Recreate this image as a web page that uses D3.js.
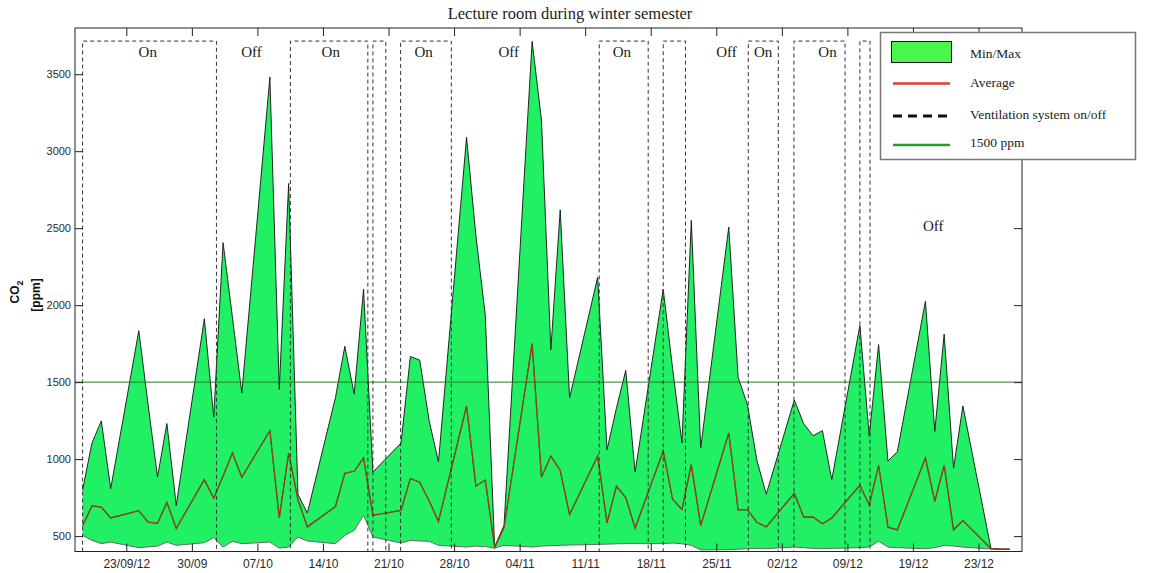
<!DOCTYPE html>
<html>
<head>
<meta charset="utf-8">
<script src="https://cdn.jsdelivr.net/npm/d3@7"></script>
<style>
  html, body { margin: 0; padding: 0; background: #fff; }
  svg { display: block; }
</style>
</head>
<body>
<svg id="chart" width="1152" height="573"></svg>
<script>
// Daily CO2 statistics (weekday mornings), ppm
const sampleTimes = [
  "2012-09-18T08:00","2012-09-19T08:00","2012-09-20T08:00","2012-09-21T08:00",
  "2012-09-24T08:00","2012-09-25T08:00","2012-09-26T08:00","2012-09-27T08:00","2012-09-28T08:00",
  "2012-10-01T08:00","2012-10-02T08:00","2012-10-03T08:00","2012-10-04T08:00","2012-10-05T08:00",
  "2012-10-08T08:00","2012-10-09T08:00","2012-10-10T08:00","2012-10-11T08:00","2012-10-12T08:00",
  "2012-10-15T08:00","2012-10-16T08:00","2012-10-17T08:00","2012-10-18T08:00","2012-10-19T08:00",
  "2012-10-22T08:00","2012-10-23T08:00","2012-10-24T08:00","2012-10-25T08:00","2012-10-26T08:00",
  "2012-10-29T08:00","2012-10-30T08:00","2012-10-31T08:00","2012-11-01T08:00","2012-11-02T08:00",
  "2012-11-05T08:00","2012-11-06T08:00","2012-11-07T08:00","2012-11-08T08:00","2012-11-09T08:00",
  "2012-11-12T08:00","2012-11-13T08:00","2012-11-14T08:00","2012-11-15T08:00","2012-11-16T08:00",
  "2012-11-19T08:00","2012-11-20T08:00","2012-11-21T08:00","2012-11-22T08:00","2012-11-23T08:00",
  "2012-11-26T08:00","2012-11-27T08:00","2012-11-28T08:00","2012-11-29T08:00","2012-11-30T08:00",
  "2012-12-03T08:00","2012-12-04T08:00","2012-12-05T08:00","2012-12-06T08:00","2012-12-07T08:00",
  "2012-12-10T08:00","2012-12-11T08:00","2012-12-12T08:00","2012-12-13T08:00","2012-12-14T08:00",
  "2012-12-17T08:00","2012-12-18T08:00","2012-12-19T08:00","2012-12-20T08:00","2012-12-21T08:00",
  "2012-12-24T08:00","2012-12-25T08:00","2012-12-26T08:00"
];

const maxValues = [
  800, 1105, 1248, 808,
  1834, 1350, 884, 1231, 700,
  1912, 1273, 2406, 1920, 1430,
  3482, 1453, 2790, 770, 650,
  1400, 1733, 1422, 2103, 916,
  1104, 1666, 1643, 1251, 982,
  3090, 2450, 1935, 430, 570,
  3713, 3202, 1711, 2619, 1397,
  2181, 1060, 1330, 1576, 915,
  2103, 1590, 1105, 2551, 1072,
  2507, 1531, 1352, 993, 772,
  1384, 1230, 1152, 1185, 866,
  1868, 1150, 1744, 987, 1048,
  2025, 1180, 1812, 941, 1345,
  419, 415, 415
];

const avgValues = [
  565, 697, 688, 618,
  665, 590, 583, 719, 550,
  867, 746, 890, 1039, 882,
  1184, 618, 1039, 735, 560,
  692, 908, 921, 1008, 635,
  667, 874, 850, 730, 595,
  1345, 824, 864, 428, 555,
  1750, 882, 1020, 926, 640,
  1020, 585, 824, 750, 552,
  1053, 739, 673, 965, 568,
  1170, 670, 670, 590, 560,
  778, 623, 625, 580, 618,
  830, 701, 960, 558, 540,
  1007, 726, 960, 541, 601,
  418, 415, 415
];

const minValues = [
  505, 472, 451, 461,
  425, 430, 435, 461, 440,
  457, 490, 429, 466, 451,
  461, 422, 429, 494, 468,
  451, 505, 537, 635, 494,
  455, 472, 468, 466, 440,
  429, 435, 432, 422, 440,
  429, 435, 438, 440, 442,
  446, 448, 450, 451, 451,
  451, 455, 450, 440, 410,
  412, 415, 418, 420, 418,
  429, 425, 420, 418, 420,
  425, 429, 466, 429, 425,
  418, 425, 440, 435, 429,
  416, 413, 413
];

// Ventilation system switching times and resulting state
const ventTimes = [
  "2012-09-18T08:00","2012-09-18T08:00","2012-10-02T15:00","2012-10-10T12:30",
  "2012-10-18T19:00","2012-10-19T08:00","2012-10-20T17:00","2012-10-22T07:00",
  "2012-10-27T17:00","2012-11-12T12:00","2012-11-17T17:30","2012-11-19T08:00",
  "2012-11-21T17:00","2012-11-28T10:00","2012-12-01T15:00","2012-12-03T07:00",
  "2012-12-08T18:00","2012-12-10T08:00","2012-12-11T10:00","2012-12-26T20:00"
];
const ventStates = [
  "Off","On","Off","On","Off","On","Off","On","Off","On",
  "Off","On","Off","On","Off","On","Off","On","Off","Off"
];
const ventLevel = { On: 3715, Off: 400 };

// Period annotations
const periodLabelTimes = [
  "2012-09-25T07:00","2012-10-06T09:00","2012-10-14T20:00","2012-10-24T18:00",
  "2012-11-02T20:00","2012-11-14T22:00","2012-11-26T02:00","2012-11-30T00:00",
  "2012-12-06T21:00","2012-12-18T04:00"
];
const periodLabelTexts = ["On","Off","On","On","Off","On","Off","On","On","Off"];
const periodLabelLevels = [3610,3610,3610,3610,3610,3610,3610,3610,3610,2480];

// Axis ticks
const xTickDates = [
  "2012-09-23T00:00","2012-09-30T00:00","2012-10-07T00:00","2012-10-14T00:00",
  "2012-10-21T00:00","2012-10-28T00:00","2012-11-04T00:00","2012-11-11T00:00",
  "2012-11-18T00:00","2012-11-25T00:00","2012-12-02T00:00","2012-12-09T00:00",
  "2012-12-16T00:00","2012-12-23T00:00"
];
const xTickLabels = ["23/09/12","30/09","07/10","14/10","21/10","28/10","04/11",
  "11/11","18/11","25/11","02/12","09/12","19/12","23/12"];
const yTicks = [500, 1000, 1500, 2000, 2500, 3000, 3500];
const threshold = 1500;

const legendLabels = ["Min/Max", "Average", "Ventilation system on/off", "1500 ppm"];

// ---------------------------------------------------------------
const parseT = d3.utcParse("%Y-%m-%dT%H:%M");
const plot = { left: 75, right: 1022, top: 28, bottom: 551.5 };

const x = d3.scaleUtc()
  .domain([parseT("2012-09-17T12:30"), parseT("2012-12-27T15:30")])
  .range([plot.left, plot.right]);
const y = d3.scaleLinear().domain([400, 3800]).range([plot.bottom, plot.top]);

const data = sampleTimes.map((t, i) => ({
  t: parseT(t), max: maxValues[i], avg: avgValues[i], min: minValues[i]
}));
const vent = ventTimes.map((t, i) => ({ t: parseT(t), v: ventLevel[ventStates[i]] }));

const svg = d3.select("#chart");
const serif = "'Liberation Serif', 'DejaVu Serif', serif";
const sans = "'Liberation Sans', Arial, sans-serif";

svg.append("defs").append("clipPath").attr("id", "plotclip")
  .append("rect")
  .attr("x", plot.left).attr("y", plot.top)
  .attr("width", plot.right - plot.left).attr("height", plot.bottom - plot.top);

const g = svg.append("g").attr("clip-path", "url(#plotclip)");

// Min/Max band
g.append("path").datum(data)
  .attr("fill", "#22f064")
  .attr("d", d3.area().x(d => x(d.t)).y0(d => y(d.min)).y1(d => y(d.max)));

// Band edges
g.append("path").datum(data)
  .attr("fill", "none").attr("stroke", "#666").attr("stroke-width", 1)
  .attr("d", d3.line().x(d => x(d.t)).y(d => y(d.min)));
g.append("path").datum(data)
  .attr("fill", "none").attr("stroke", "#111").attr("stroke-width", 0.9)
  .attr("d", d3.line().x(d => x(d.t)).y(d => y(d.max)));

// Average
const avgLine = d3.line().x(d => x(d.t)).y(d => y(d.avg));
g.append("path").datum(data)
  .attr("fill", "none").attr("stroke", "#4a3a18").attr("stroke-width", 1.3)
  .attr("d", avgLine);
g.append("path").datum(data)
  .attr("fill", "none").attr("stroke", "#d8401e").attr("stroke-width", 0.6)
  .attr("d", avgLine);

// 1500 ppm reference
g.append("line")
  .attr("x1", plot.left).attr("x2", plot.right)
  .attr("y1", y(threshold)).attr("y2", y(threshold))
  .attr("stroke", "#2a7a22").attr("stroke-width", 1);

// Ventilation on/off signal
g.append("path").datum(vent)
  .attr("fill", "none").attr("stroke", "#333").attr("stroke-width", 1)
  .attr("stroke-dasharray", "4,3")
  .attr("d", d3.line().curve(d3.curveStepAfter).x(d => x(d.t)).y(d => y(d.v)));

// Period labels
svg.append("g").selectAll("text")
  .data(periodLabelTexts)
  .join("text")
  .attr("x", (d, i) => x(parseT(periodLabelTimes[i])))
  .attr("y", (d, i) => y(periodLabelLevels[i]))
  .attr("text-anchor", "middle")
  .attr("font-family", serif).attr("font-size", 15)
  .attr("fill", "#1a1a1a")
  .text(d => d);

// Axes (ticks pointing inward on all four sides)
function styleAxis(sel) {
  sel.select(".domain").remove();
  sel.selectAll(".tick line").attr("stroke", "#222");
  sel.selectAll(".tick text").attr("fill", "#2a2a2a");
  sel.attr("font-family", sans);
}
const xDates = xTickDates.map(parseT);

svg.append("g").attr("transform", `translate(0,${plot.bottom})`)
  .call(d3.axisBottom(x).tickValues(xDates).tickFormat((d, i) => xTickLabels[i])
    .tickSize(-8).tickSizeOuter(0).tickPadding(8))
  .attr("font-size", 12)
  .call(styleAxis);

svg.append("g").attr("transform", `translate(0,${plot.top})`)
  .call(d3.axisTop(x).tickValues(xDates).tickFormat("").tickSize(-8).tickSizeOuter(0))
  .call(styleAxis);

svg.append("g").attr("transform", `translate(${plot.left},0)`)
  .call(d3.axisLeft(y).tickValues(yTicks).tickFormat(d3.format("d"))
    .tickSize(-8).tickSizeOuter(0).tickPadding(4))
  .attr("font-size", 11)
  .call(styleAxis);

svg.append("g").attr("transform", `translate(${plot.right},0)`)
  .call(d3.axisRight(y).tickValues(yTicks).tickFormat("").tickSize(-8).tickSizeOuter(0))
  .call(styleAxis);

svg.append("rect")
  .attr("x", plot.left).attr("y", plot.top)
  .attr("width", plot.right - plot.left).attr("height", plot.bottom - plot.top)
  .attr("fill", "none").attr("stroke", "#222").attr("stroke-width", 1);

// Y axis title
const yt = svg.append("g").attr("font-family", sans).attr("font-weight", "bold")
  .attr("font-size", 12).attr("fill", "#111");
const co2 = yt.append("text")
  .attr("transform", "translate(19,292) rotate(-90)")
  .attr("text-anchor", "middle");
co2.append("tspan").text("CO");
co2.append("tspan").attr("font-size", 9).attr("dy", 4).text("2");
yt.append("text")
  .attr("transform", "translate(40,295) rotate(-90)")
  .attr("text-anchor", "middle")
  .text("[ppm]");

// Title
svg.append("text")
  .attr("x", 570).attr("y", 18.5)
  .attr("text-anchor", "middle")
  .attr("font-family", serif).attr("font-size", 16.5)
  .attr("fill", "#222")
  .text("Lecture room during winter semester");

// Legend
const lg = svg.append("g");
lg.append("rect")
  .attr("x", 880.5).attr("y", 32.5).attr("width", 255).attr("height", 127)
  .attr("fill", "#fff").attr("stroke", "#777").attr("stroke-width", 1.5);
lg.append("rect")
  .attr("x", 891.5).attr("y", 41.5).attr("width", 60).attr("height", 21)
  .attr("fill", "#4cf74c").attr("stroke", "#111").attr("stroke-width", 1);
lg.append("line").attr("x1", 893).attr("x2", 950).attr("y1", 83.5).attr("y2", 83.5)
  .attr("stroke", "#e03a3a").attr("stroke-width", 2.5);
lg.append("line").attr("x1", 893).attr("x2", 950).attr("y1", 116).attr("y2", 116)
  .attr("stroke", "#111").attr("stroke-width", 3).attr("stroke-dasharray", "9,6");
lg.append("line").attr("x1", 893).attr("x2", 950).attr("y1", 145).attr("y2", 145)
  .attr("stroke", "#2a9a2a").attr("stroke-width", 2.5);
const legendY = [58, 87, 118.5, 146.5];
lg.selectAll("text.leg").data(legendLabels).join("text")
  .attr("class", "leg")
  .attr("x", 970).attr("y", (d, i) => legendY[i])
  .attr("font-family", serif).attr("font-size", 13.5)
  .attr("fill", "#222")
  .text(d => d);
</script>
</body>
</html>
